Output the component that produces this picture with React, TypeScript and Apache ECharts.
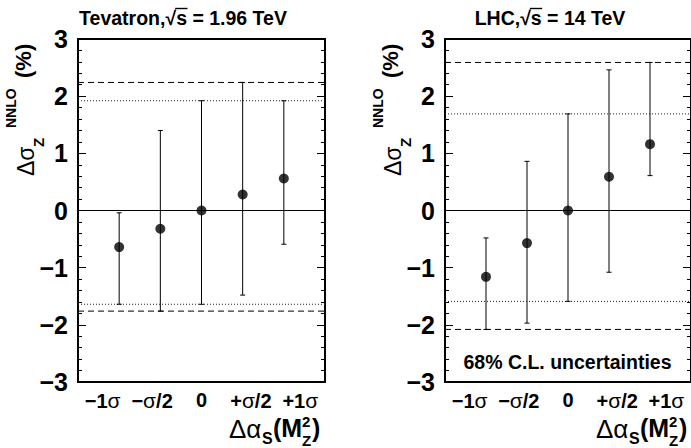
import React, { useEffect, useRef } from 'react';
import * as echarts from 'echarts';

// ---- data ----
const categories = ['−1σ', '−σ/2', '0', '+σ/2', '+1σ'];
const xPositions = [1, 2, 3, 4, 5];
const yTicks = [-3, -2, -1, 0, 1, 2, 3];

const tevCentral = [-0.64, -0.32, 0, 0.28, 0.56];
const tevLow = [-1.64, -1.76, -1.64, -1.48, -0.59];
const tevHigh = [-0.04, 1.4, 1.92, 2.24, 1.92];
const tevDashed = [2.24, -1.76];
const tevDotted = [1.92, -1.64];

const lhcCentral = [-1.16, -0.57, 0, 0.59, 1.16];
const lhcLow = [-2.08, -1.97, -1.59, -1.08, 0.61];
const lhcHigh = [-0.48, 0.86, 1.69, 2.46, 2.59];
const lhcDashed = [2.59, -2.08];
const lhcDotted = [1.69, -1.59];

const titles = ['Tevatron,√s = 1.96 TeV', 'LHC,√s = 14 TeV'];
const note = '68% C.L. uncertainties';

const FONT = '"Liberation Sans", Arial, Helvetica, sans-serif';

function measure(text: string, font: string): number {
  const c = document.createElement('canvas').getContext('2d');
  if (!c) return text.length * 10;
  c.font = font;
  return c.measureText(text).width;
}

function labelRich(label: string): string {
  const parts = label.split('σ');
  let out = '';
  parts.forEach((p, i) => {
    if (p) out += '{b|' + p + '}';
    if (i < parts.length - 1) out += '{s|σ}';
  });
  return out;
}

export default function App() {
  const ref = useRef<HTMLDivElement>(null);
  useEffect(() => {
    if (!ref.current) return;
    const chart = echarts.init(ref.current, null, { renderer: 'svg' });

    const grids = [
      { left: 78, top: 39, width: 247, height: 343 },
      { left: 445, top: 39, width: 246, height: 343 },
    ];

    const xAxes: any[] = [];
    grids.forEach((_, i) => {
      // value axis carrying the data points
      xAxes.push({
        type: 'value',
        gridIndex: i,
        position: 'bottom',
        min: 0,
        max: 6,
        interval: 1,
        axisLine: { show: true, onZero: false, lineStyle: { color: '#000', width: 2 } },
        axisTick: { show: false },
        splitLine: { show: false },
        axisLabel: { show: false },
      });
      // category axis carrying the labels (label bins)
      xAxes.push({
        type: 'category',
        gridIndex: i,
        position: 'bottom',
        data: categories,
        boundaryGap: true,
        axisLine: { show: false, onZero: false },
        axisTick: { show: false },
        splitLine: { show: false },
        axisLabel: {
          margin: 8,
          interval: 0,
          formatter: (v: string) => labelRich(v),
          rich: {
            b: { fontFamily: FONT, fontWeight: 'bold', fontSize: 20, color: '#000' },
            s: { fontFamily: FONT, fontWeight: 'normal', fontSize: 21, color: '#000' },
          },
        },
      });
    });

    const yAxisBase = (gridIndex: number, position: string, showLabels: boolean) => ({
      type: 'value',
      gridIndex,
      position,
      min: -3,
      max: 3,
      interval: 1,
      axisLine: { show: true, onZero: false, lineStyle: { color: '#000', width: 2 } },
      axisTick: { show: true, inside: true, length: 8, lineStyle: { color: '#000', width: 1 } },
      minorTick: { show: true, splitNumber: 5, length: 4, lineStyle: { color: '#000', width: 1 } },
      splitLine: { show: false },
      axisLabel: {
        show: showLabels,
        margin: 10,
        fontFamily: FONT,
        fontWeight: 'bold',
        fontSize: 25,
        color: '#000',
        formatter: (v: number) => {
          const t = yTicks.find((k) => k === v);
          if (t === undefined) return '';
          return t < 0 ? '−' + Math.abs(t) : String(t);
        },
      },
    });

    const yAxes = [
      yAxisBase(0, 'left', true),
      yAxisBase(0, 'right', false),
      yAxisBase(1, 'left', true),
      yAxisBase(1, 'right', false),
    ];

    const panels = [
      { central: tevCentral, low: tevLow, high: tevHigh, dashed: tevDashed, dotted: tevDotted },
      { central: lhcCentral, low: lhcLow, high: lhcHigh, dashed: lhcDashed, dotted: lhcDotted },
    ];

    const series: any[] = [];
    panels.forEach((p, i) => {
      const xIdx = i * 2;
      const yIdx = i * 2;
      const hline = (v: number, type: any, color: string) => ({
        type: 'line',
        xAxisIndex: xIdx,
        yAxisIndex: yIdx,
        data: [[0, v], [6, v]],
        symbol: 'none',
        silent: true,
        lineStyle: { color, width: 1, type },
        z: 1,
      });
      series.push(hline(0, 'solid', '#000'));
      p.dashed.forEach((v) => series.push(hline(v, [6, 4], '#000')));
      p.dotted.forEach((v) => series.push(hline(v, [1, 2], '#222')));
      series.push({
        type: 'custom',
        xAxisIndex: xIdx,
        yAxisIndex: yIdx,
        data: xPositions.map((x, k) => [x, p.low[k], p.high[k]]),
        encode: { x: 0, y: [1, 2] },
        z: 3,
        renderItem: (params: any, api: any) => {
          const x = api.value(0);
          const lo = api.coord([x, api.value(1)]);
          const hi = api.coord([x, api.value(2)]);
          const cap = 2.5;
          const st = { stroke: '#000', lineWidth: 1 };
          return {
            type: 'group',
            children: [
              { type: 'line', shape: { x1: lo[0], y1: lo[1], x2: hi[0], y2: hi[1] }, style: st },
              { type: 'line', shape: { x1: lo[0] - cap, y1: lo[1], x2: lo[0] + cap, y2: lo[1] }, style: st },
              { type: 'line', shape: { x1: hi[0] - cap, y1: hi[1], x2: hi[0] + cap, y2: hi[1] }, style: st },
            ],
          };
        },
      });
      series.push({
        type: 'scatter',
        xAxisIndex: xIdx,
        yAxisIndex: yIdx,
        data: xPositions.map((x, k) => [x, p.central[k]]),
        symbol: 'circle',
        symbolSize: 10,
        itemStyle: { color: '#000' },
        z: 5,
      });
    });

    // ---- decorations ----
    const graphic: any[] = [];
    const titleFont = `bold 19.5px ${FONT}`;
    const titleCenters = [183, 550];
    titles.forEach((t, i) => {
      const cx = titleCenters[i];
      const w = measure(t, titleFont);
      const left = cx - w / 2;
      graphic.push({
        type: 'text',
        x: left,
        y: 18,
        style: { text: t, font: titleFont, fill: '#000', align: 'left', verticalAlign: 'middle' },
      });
      const pre = t.slice(0, t.indexOf('√') + 1);
      const sx = left + measure(pre, titleFont);
      const sw = measure('s', titleFont);
      graphic.push({
        type: 'line',
        shape: { x1: sx - 1, y1: 8.5, x2: sx + sw + 0.5, y2: 8.5 },
        style: { stroke: '#000', lineWidth: 1.4 },
      });
    });

    const panelShift = [0, 367];
    panelShift.forEach((dx) => {
      // y-axis title (rotated)
      const rot = Math.PI / 2;
      graphic.push({
        type: 'text', x: 25.5 + dx, y: 176, rotation: rot,
        style: { text: 'Δσ', font: `23px ${FONT}`, fill: '#000', align: 'left', verticalAlign: 'middle' },
      });
      graphic.push({
        type: 'text', x: 38 + dx, y: 147, rotation: rot,
        style: { text: 'Z', font: `bold 15px ${FONT}`, fill: '#000', align: 'left', verticalAlign: 'middle' },
      });
      graphic.push({
        type: 'text', x: 11 + dx, y: 128, rotation: rot,
        style: { text: 'NNLO', font: `bold 14px ${FONT}`, fill: '#000', align: 'left', verticalAlign: 'middle' },
      });
      graphic.push({
        type: 'text', x: 23 + dx, y: 78, rotation: rot,
        style: { text: '(%)', font: `bold 22px ${FONT}`, fill: '#000', align: 'left', verticalAlign: 'middle' },
      });
      // x-axis title
      const xt = (text: string, x: number, y: number, font: string) => graphic.push({
        type: 'text', x: x + dx, y,
        style: { text, font, fill: '#000', align: 'left', verticalAlign: 'middle' },
      });
      xt('Δα', 229, 429, `26px ${FONT}`);
      xt('S', 262, 438, `bold 16px ${FONT}`);
      xt('(M', 273, 428, `bold 25px ${FONT}`);
      xt('2', 302, 421, `bold 15px ${FONT}`);
      xt('Z', 302, 440, `bold 15px ${FONT}`);
      xt(')', 312, 428, `bold 25px ${FONT}`);
    });

    graphic.push({
      type: 'text', x: 567.5, y: 362,
      style: { text: note, font: `bold 19.5px ${FONT}`, fill: '#000', align: 'center', verticalAlign: 'middle' },
    });

    chart.setOption({
      animation: false,
      backgroundColor: '#fff',
      grid: grids.map((g) => ({ ...g, show: true, borderColor: '#000', borderWidth: 2, backgroundColor: 'transparent' })),
      xAxis: xAxes,
      yAxis: yAxes,
      series,
      graphic,
    });

    return () => chart.dispose();
  }, []);

  return <div ref={ref} style={{ width: 691, height: 448, position: 'absolute', left: 0, top: 0 }} />;
}
